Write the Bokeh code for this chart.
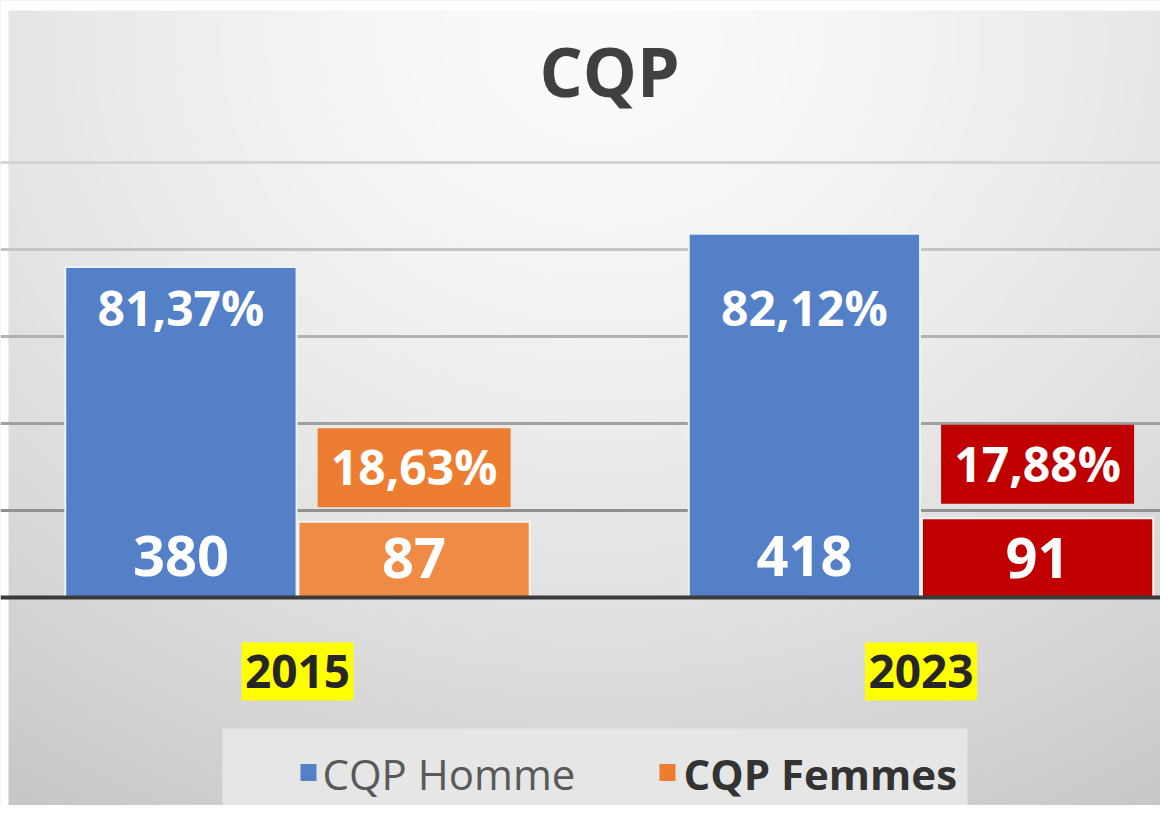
import numpy as np
from bokeh.plotting import figure
from bokeh.models import Range1d, Grid, FixedTicker, Span
from bokeh.core.properties import value
from bokeh.embed import file_html
from bokeh.resources import INLINE

# ---------------- data ----------------
title_text = "CQP"
years = ["2015", "2023"]
homme = [380, 418]
femmes = [87, 91]
pct_homme = ["81,37%", "82,12%"]
pct_femmes = ["18,63%", "17,88%"]
legend_labels = ["CQP Homme", "CQP Femmes"]
grid_ticks = [100, 200, 300, 400, 500]

# ---------------- layout helpers ----------------
W, H = 1160, 805
SY = 0.87          # px per unit (y)
SX = 623.5         # px per category step (x)
BASE_Y = 597       # pixel row of the zero line
CAT0_X = 297       # pixel column of first category centre
y_end = BASE_Y / SY
y_start = -(H - BASE_Y) / SY
x_start = -CAT0_X / SX
x_end = x_start + W / SX
SHIFT = 0.38       # baseline compensation (fraction of font size)


def px(X):
    return x_start + X / SX


def py(Y):
    return y_end - Y / SY


def base(Y, size):
    """data y for an alphabetic baseline at pixel row Y for font size"""
    return py(Y - SHIFT * size)


BLUE = "#5480C8"
ORANGE_BAR = "#EF8B45"
ORANGE = "#ED7D31"
RED = "#C00000"
FONT = value("Open Sans")

p = figure(width=W, height=H, x_range=Range1d(x_start, x_end),
           y_range=Range1d(y_start, y_end), output_backend="svg",
           toolbar_location=None, x_axis_location=None, y_axis_location=None,
           min_border=0, outline_line_color=None,
           background_fill_color="#e0e0e0", border_fill_color="white")
p.xgrid.visible = False
p.ygrid.visible = False

# background gradient (white strip on top / left as in the reference)
rows, cols = H // 2, W // 2
Xs = (np.arange(cols) + 0.5) * 2
Ys = H - (np.arange(rows) + 0.5) * 2
XX, YY = np.meshgrid(Xs, Ys)
d = np.sqrt(((XX - 600) * 0.85) ** 2 + (YY - 40) ** 2)
t = np.clip(d / 1000.0, 0, 1)
c = 251 - 60 * t ** 1.5
c = np.where((XX < 8) | (YY < 11), 255, c).astype(np.uint8)
img = np.empty((rows, cols), dtype=np.uint32)
view = img.view(dtype=np.uint8).reshape((rows, cols, 4))
view[..., 0] = c
view[..., 1] = c
view[..., 2] = c
view[..., 3] = 255
p.image_rgba(image=[img], x=x_start, y=y_start, dw=x_end - x_start,
             dh=y_end - y_start, level="image")

# gridlines
grid_colors = ["#909090", "#a0a0a0", "#b2b2b2", "#c4c4c4", "#d4d4d4"]
for tk, col in zip(grid_ticks, grid_colors):
    p.add_layout(Grid(dimension=1, ticker=FixedTicker(ticks=[tk]),
                      grid_line_color=col, grid_line_width=3))

# bars
xs = np.arange(len(years))
DODGE = 0.187
BW = 0.371
p.vbar(x=xs - DODGE, top=homme, bottom=0, width=BW, fill_color=BLUE,
       line_color="#eef2f8", line_width=2)
p.vbar(x=xs + DODGE, top=femmes, bottom=0, width=BW,
       fill_color=[ORANGE_BAR, RED], line_color="#f5f5f5", line_width=2)

p.add_layout(Span(location=0, dimension="width", line_color="#3a3a3a",
                  line_width=4))

# labels on blue bars
p.text(x=xs - DODGE, y=[base(325, 48)] * len(years), text=pct_homme,
       text_font=FONT, text_font_style="bold", text_font_size="48px",
       text_color="white", text_align="center", text_baseline="alphabetic")
p.text(x=xs - DODGE, y=[base(577, 56)] * len(years), text=[str(v) for v in homme],
       text_font=FONT, text_font_style="bold", text_font_size="56px",
       text_color="white", text_align="center", text_baseline="alphabetic")
p.text(x=xs + DODGE, y=[base(579, 56)] * len(years), text=[str(v) for v in femmes],
       text_font=FONT, text_font_style="bold", text_font_size="56px",
       text_color="white", text_align="center", text_baseline="alphabetic")

# percentage boxes above femmes bars
fem = np.array(femmes, dtype=float)
p.rect(x=xs + DODGE, y=fem + 54 / SY, width=193, height=79,
       width_units="screen", height_units="screen",
       fill_color=[ORANGE, RED], line_color=None)
p.text(x=xs + DODGE, y=fem + (37 + SHIFT * 48) / SY, text=pct_femmes,
       text_font=FONT, text_font_style="bold", text_font_size="48px",
       text_color="white", text_align="center", text_baseline="alphabetic")

# year labels with yellow highlight
p.rect(x=xs, y=[py(671)] * len(years), width=112, height=58,
       width_units="screen", height_units="screen",
       fill_color="#FFFF00", line_color=None)
p.text(x=xs, y=[base(688, 46)] * len(years), text=years,
       text_font=FONT, text_font_style="bold", text_font_size="46px",
       text_color="#262626", text_align="center", text_baseline="alphabetic")

# title
p.text(x=[px(609)], y=[base(96, 68)], text=[title_text], text_font=FONT,
       text_font_style="bold", text_font_size="68px", text_color="#404040",
       text_align="center", text_baseline="alphabetic")

# legend
p.rect(x=[px(594.5)], y=[py(771.5)], width=745, height=87,
       width_units="screen", height_units="screen",
       fill_color="#e6e6e6", line_color=None)
p.rect(x=[px(308), px(667)], y=[py(772)] * 2, width=16, height=17,
       width_units="screen", height_units="screen",
       fill_color=[BLUE, ORANGE], line_color=None)
p.text(x=[px(322)], y=[base(789, 42)], text=[legend_labels[0]], text_font=FONT,
       text_font_size="42px", text_color="#595959", text_align="left",
       text_baseline="alphabetic")
p.text(x=[px(683)], y=[base(789, 42)], text=[legend_labels[1]], text_font=FONT,
       text_font_style="bold", text_font_size="42px", text_color="#333333",
       text_align="left", text_baseline="alphabetic")

open("out.html", "w").write(file_html(p, INLINE))
